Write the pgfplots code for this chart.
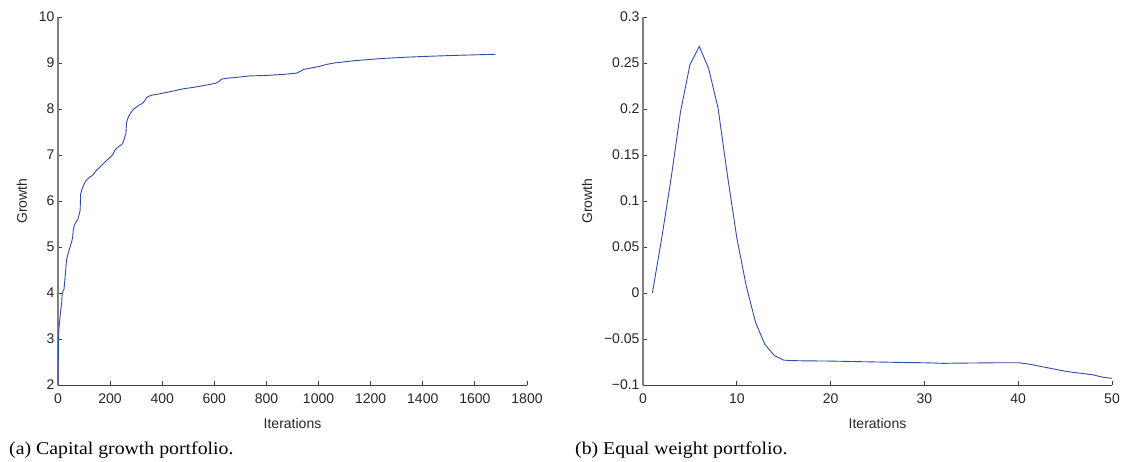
\documentclass[border=0pt]{standalone}
\usepackage{fontspec}
\setmainfont{Liberation Sans}
\newfontfamily\capfont[FakeStretch=1.1]{Liberation Serif}
\usepackage{pgfplots}
\pgfplotsset{compat=1.18}
\definecolor{lineblue}{RGB}{46,76,168}
\pgfplotsset{
  mystyle/.style={
    scale only axis, width=469pt, height=368pt, anchor=south west,
    axis x line*=bottom, axis y line*=left,
    x axis line style={black!75, line width=0.9pt, -},
    y axis line style={black!50, line width=1.8pt, -},
    every outer y axis line/.append style={black!50, line width=1.8pt, -},
    every outer x axis line/.append style={black!75, line width=0.9pt, -},
    tick align=inside, major tick length=4pt,
    tick style={black!75, line width=0.8pt},
    ticklabel style={font=\fontsize{14}{16}\selectfont, text=black!85},
    xticklabel style={yshift=-5pt},
    label style={font=\fontsize{14}{16}\selectfont, text=black!85},
    xlabel style={at={(axis description cs:0.5,0)}, anchor=center, yshift=-38pt},
    /pgf/number format/1000 sep={},
    /pgf/number format/assume math mode=true,
    clip=false,
  }
}
\begin{document}
\begin{tikzpicture}[x=1pt,y=1pt]
\path (0,0) rectangle (1124,461);
\begin{axis}[mystyle, at={(58pt,76pt)},
  xmin=0, xmax=1800, ymin=2, ymax=10,
  xtick={0,200,...,1800}, ytick={2,3,...,10},
  xlabel={Iterations}, ylabel={Growth},
  ylabel style={at={(axis description cs:-0.0768,0.5)}, anchor=center}]
\addplot[lineblue, line width=0.9pt] coordinates {
(0,2.0) (1,2.5) (2,2.99) (4,3.25) (7,3.43) (11,3.65) (14,3.78) (16,3.97) (20,4.05) (23,4.08)
(28,4.40) (33,4.73) (40,4.88) (46,4.99) (53,5.13) (56,5.20) (59,5.38) (63,5.48) (70,5.55) (76,5.60)
(82,5.72) (85,5.80) (87,6.15) (92,6.25) (97,6.33) (105,6.42) (112,6.47) (122,6.52) (133,6.56) (148,6.67)
(160,6.73) (174,6.81) (190,6.90) (206,6.98) (212,7.03) (219,7.11) (232,7.18) (245,7.23) (252,7.30) (257,7.41)
(261,7.48) (263,7.70) (267,7.78) (272,7.85) (280,7.92) (289,7.99) (298,8.03) (308,8.07) (320,8.11) (327,8.14)
(334,8.19) (340,8.25) (350,8.28) (360,8.30) (380,8.32) (417,8.36) (450,8.40) (481,8.44) (520,8.47) (560,8.51)
(605,8.56) (618,8.60) (628,8.65) (650,8.67) (673,8.68) (737,8.72) (800,8.73) (860,8.75) (916,8.78) (930,8.82)
(942,8.86) (970,8.89) (1006,8.93) (1031,8.97) (1060,9.00) (1121,9.04) (1180,9.07) (1249,9.10) (1350,9.13) (1441,9.15)
(1550,9.17) (1680,9.19)
};
\end{axis}
\begin{axis}[mystyle, at={(643pt,76pt)},
  xmin=0, xmax=50, ymin=-0.1, ymax=0.3,
  xtick={0,10,...,50},
  ytick={-0.1,-0.05,0,0.05,0.1,0.15,0.2,0.25,0.3},
  yticklabels={−0.1,−0.05,0,0.05,0.1,0.15,0.2,0.25,0.3},
  xlabel={Iterations}, ylabel={Growth},
  ylabel style={at={(axis description cs:-0.1194,0.5)}, anchor=center}]
\addplot[lineblue, line width=0.9pt] coordinates {
(1,0.0) (2,0.06) (3,0.125) (4,0.197) (5,0.248) (6,0.268) (7,0.244) (8,0.201) (9,0.128) (10,0.06)
(11,0.008) (12,-0.032) (13,-0.056) (14,-0.068) (15,-0.073) (16,-0.0735) (17,-0.0737) (18,-0.0738) (19,-0.0739) (20,-0.074)
(21,-0.0742) (22,-0.0744) (23,-0.0746) (24,-0.0748) (25,-0.075) (26,-0.0752) (27,-0.0754) (28,-0.0756) (29,-0.0757) (30,-0.0758)
(31,-0.0761) (32,-0.0765) (33,-0.0763) (34,-0.0762) (35,-0.0761) (36,-0.076) (37,-0.0759) (38,-0.0758) (39,-0.0758) (40,-0.0758)
(41,-0.077) (42,-0.079) (43,-0.081) (44,-0.083) (45,-0.085) (46,-0.0865) (47,-0.0876) (48,-0.089) (49,-0.0915) (50,-0.0928)
};
\end{axis}
\node[anchor=west, inner sep=0pt, font=\capfont\fontsize{18}{20}\selectfont] at (9,11) {(a) Capital growth portfolio.};
\node[anchor=west, inner sep=0pt, font=\capfont\fontsize{18}{20}\selectfont] at (575,11) {(b) Equal weight portfolio.};
\end{tikzpicture}
\end{document}
